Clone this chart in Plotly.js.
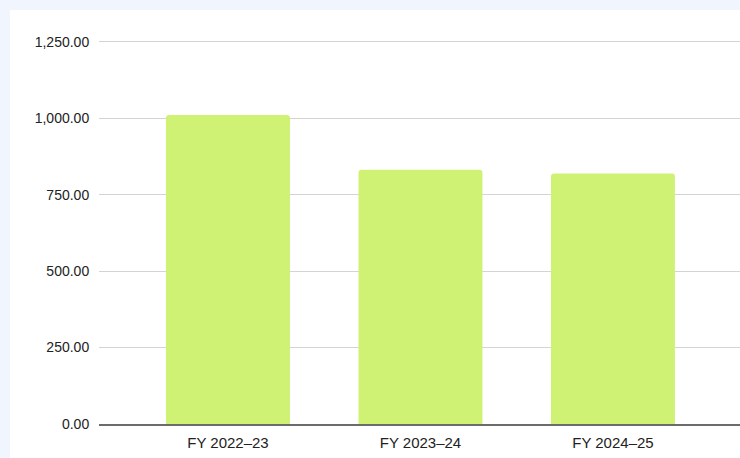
<!DOCTYPE html>
<html>
<head>
<meta charset="utf-8">
<script src="https://cdn.plot.ly/plotly-3.0.1.min.js"></script>
<style>
html,body{margin:0;padding:0;background:#f1f5fe;width:740px;height:458px;overflow:hidden;}
#chart{position:absolute;left:10px;top:10px;width:730px;height:448px;background:#ffffff;}
</style>
</head>
<body>
<div id="chart"></div>
<script>
var categories = ["FY 2022\u201323", "FY 2023\u201324", "FY 2024\u201325"];
var values = [1011, 832, 819];
var yTicks = [0, 250, 500, 750, 1000, 1250];

var trace = {
  type: "bar",
  x: categories,
  y: values,
  marker: {color: "#cff274"},
  hoverinfo: "none"
};

var layout = {
  width: 730,
  height: 448,
  margin: {l: 89, r: 0, t: 30, b: 34},
  paper_bgcolor: "#ffffff",
  plot_bgcolor: "#ffffff",
  bargap: 0.356,
  barcornerradius: 3,
  showlegend: false,
  font: {family: "Liberation Sans, Arial, sans-serif", size: 14, color: "#222222"},
  xaxis: {
    type: "category",
    range: [-0.67, 2.66],
    showgrid: false,
    showline: true,
    linecolor: "#6b6b6b",
    linewidth: 1.5,
    ticks: "outside",
    ticklen: 4,
    tickcolor: "rgba(0,0,0,0)",
    tickfont: {size: 15, color: "#222222"},
    fixedrange: true
  },
  yaxis: {
    range: [0, 1256],
    tickvals: yTicks,
    tickformat: ",.2f",
    showgrid: true,
    gridcolor: "#d4d4d4",
    gridwidth: 1,
    zeroline: false,
    showline: false,
    ticks: "outside",
    ticklen: 6,
    tickcolor: "rgba(0,0,0,0)",
    tickfont: {size: 14, color: "#222222"},
    fixedrange: true
  }
};

Plotly.newPlot("chart", [trace], layout, {displayModeBar: false, staticPlot: true});
</script>
</body>
</html>
